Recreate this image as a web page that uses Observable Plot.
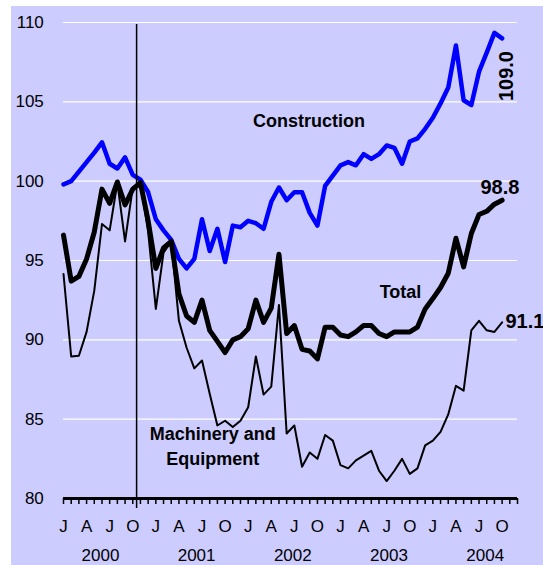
<!DOCTYPE html>
<html>
<head>
<meta charset="utf-8">
<script src="https://cdn.jsdelivr.net/npm/d3@7"></script>
<script src="https://cdn.jsdelivr.net/npm/@observablehq/plot@0.6"></script>
<style>
  html, body { margin: 0; padding: 0; background: #ffffff; }
  #chart { position: relative; width: 543px; height: 565px; overflow: hidden; }
  #bg { position: absolute; left: 11px; top: 6px; right: 0; bottom: 0; background: #ccccff; }
  #chart svg { position: absolute; left: 0; top: 0; }
</style>
</head>
<body>
<div id="chart"><div id="bg"></div></div>
<script>
// Monthly index values, Jan 2000 = index 0 ... Oct 2004 = index 57
const monthLetters = ["J", "A", "J", "O"];
const years = ["2000", "2001", "2002", "2003", "2004"];
const yTicks = [80, 85, 90, 95, 100, 105, 110];
const cyclePeak = 9.5; // vertical marker between Oct and Nov 2000

const construction = [
  99.8, 100.0, 100.6, 101.2, 101.8, 102.45, 101.1, 100.8, 101.5, 100.4, 100.1, 99.3,
  97.6, 96.9, 96.3, 95.1, 94.5, 95.1, 97.6, 95.6, 97.0, 94.9, 97.2, 97.1,
  97.5, 97.35, 97.0, 98.7, 99.6, 98.8, 99.3, 99.3, 98.0, 97.2, 99.7, 100.35,
  101.0, 101.2, 101.0, 101.7, 101.4, 101.7, 102.25, 102.1, 101.1, 102.5, 102.7, 103.3,
  104.0, 104.9, 105.9, 108.55, 105.1, 104.8, 106.9, 108.1, 109.35, 109.0
];
const total = [
  96.6, 93.7, 94.0, 95.1, 96.8, 99.5, 98.6, 99.95, 98.5, 99.5, 99.9, 97.5,
  94.5, 95.8, 96.2, 92.9, 91.5, 91.1, 92.5, 90.6, 89.9, 89.2, 90.0, 90.2,
  90.7, 92.5, 91.1, 92.0, 95.4, 90.4, 90.9, 89.4, 89.3, 88.8, 90.8, 90.8,
  90.3, 90.2, 90.5, 90.9, 90.9, 90.4, 90.2, 90.5, 90.5, 90.5, 90.8, 91.95,
  92.6, 93.3, 94.2, 96.4, 94.6, 96.7, 97.9, 98.1, 98.55, 98.8
];
const machinery = [
  94.15, 88.95, 89.0, 90.5, 93.1, 97.3, 96.9, 99.9, 96.2, 99.6, 99.9, 96.8,
  91.95, 95.5, 96.2, 91.2, 89.5, 88.2, 88.7, 86.6, 84.6, 84.9, 84.5, 84.9,
  85.75, 88.95, 86.55, 87.05, 92.2, 84.1, 84.6, 82.0, 82.9, 82.5, 84.0, 83.65,
  82.1, 81.9, 82.4, 82.7, 83.0, 81.75, 81.1, 81.75, 82.5, 81.55, 81.9, 83.35,
  83.65, 84.2, 85.3, 87.1, 86.8, 90.6, 91.2, 90.6, 90.5, 91.1
];

const nMonths = years.length * 12; // Jan 2000 .. Dec 2004
const font = "'Liberation Sans', Arial, Helvetica, sans-serif";
const last = (arr) => [arr.length - 1];

const chart = Plot.plot({
  width: 543,
  height: 565,
  marginLeft: 63,
  marginRight: 26,
  marginTop: 22,
  marginBottom: 67,
  x: { type: "linear", domain: [0, nMonths - 1] },
  y: { domain: [80, 110] },
  style: { background: "transparent", fontFamily: font, color: "black", overflow: "visible" },
  marks: [
    Plot.gridY(yTicks.filter(v => v > 80), { stroke: "white", strokeOpacity: 1, strokeWidth: 1.2 }),
    Plot.axisY(yTicks, { tickSize: 0, tickPadding: 19.7, fontSize: 17, label: null }),
    Plot.lineY(construction, { stroke: "#0000ff", strokeWidth: 4.5, strokeLinejoin: "round" }),
    Plot.lineY(total, { stroke: "black", strokeWidth: 5, strokeLinejoin: "round" }),
    Plot.lineY(machinery, { stroke: "black", strokeWidth: 2, strokeLinejoin: "round" }),
    Plot.ruleY([80], { stroke: "black", strokeWidth: 3 }),
    Plot.axisX(d3.range(nMonths), { tickSize: 6, tickFormat: () => "", strokeWidth: 1.5, label: null }),
    Plot.axisX(d3.range(0, nMonths, 3), {
      tickSize: 0, tickPadding: 21.4, fontSize: 17, label: null,
      tickFormat: i => monthLetters[(i / 3) % 4]
    }),
    Plot.axisX(years.map((y, k) => 4.8 + 12.5 * k), {
      tickSize: 0, tickPadding: 50.6, fontSize: 17, label: null,
      tickFormat: v => years[Math.round((v - 4.8) / 12.5)]
    }),
    Plot.ruleX([cyclePeak], { y1: 79.37, y2: 109.87, stroke: "black", strokeWidth: 1.5 }),
    Plot.text(["Construction"], { x: 31.9, y: 103.79, fontSize: 18, fontWeight: "bold" }),
    Plot.text(["Total"], { x: 43.8, y: 93.0, fontSize: 18, fontWeight: "bold" }),
    Plot.text(["Machinery and"], { x: 19.4, y: 84.07, fontSize: 18, fontWeight: "bold" }),
    Plot.text(["Equipment"], { x: 19.4, y: 82.5, fontSize: 18, fontWeight: "bold" }),
    Plot.text(last(construction), {
      x: d => d, y: d => construction[d], text: d => construction[d].toFixed(1),
      rotate: -90, dx: 4.3, dy: 37.7, fontSize: 20, fontWeight: "bold"
    }),
    Plot.text(last(total), {
      x: d => d, y: d => total[d], text: d => total[d].toFixed(1),
      textAnchor: "start", dx: -21.7, dy: -12.8, fontSize: 20, fontWeight: "bold"
    }),
    Plot.text(last(machinery), {
      x: d => d, y: d => machinery[d], text: d => machinery[d].toFixed(1),
      textAnchor: "start", dx: 3.3, dy: -1, fontSize: 20, fontWeight: "bold"
    })
  ]
});
document.getElementById("chart").appendChild(chart);
</script>
</body>
</html>
